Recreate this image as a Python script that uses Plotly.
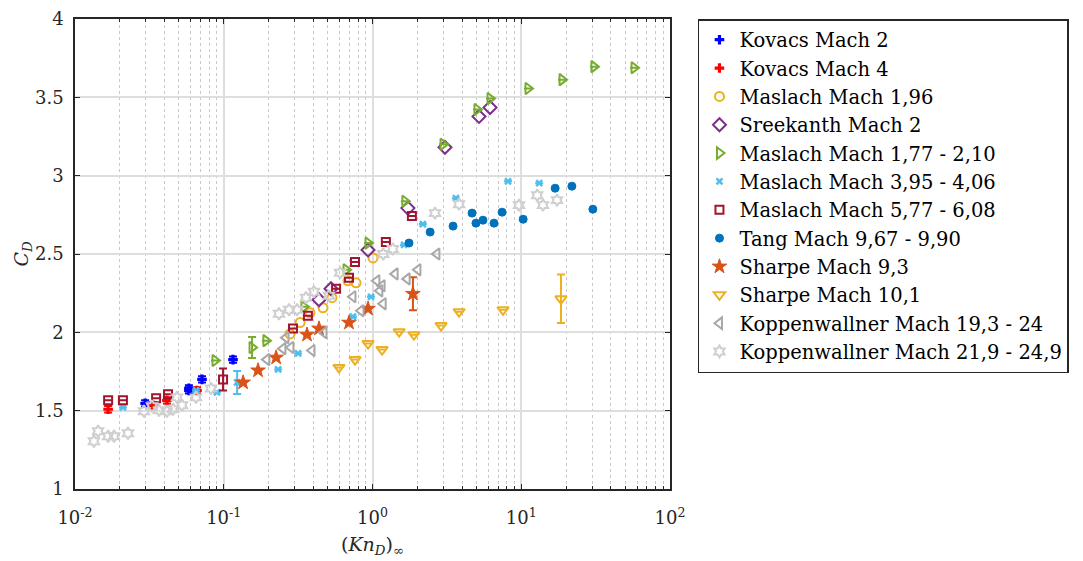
import numpy as np
import plotly.graph_objects as go

# --- data (Kn_D, C_D, optional error) ---
kovacs2_kn = [0.0296, 0.0583, 0.0583, 0.0714, 0.1154]
kovacs2_cd = [1.547, 1.642, 1.629, 1.700, 1.826]
kovacs2_err = [0.02, 0.02, 0.02, 0.02, 0.02]

kovacs4_kn = [0.0167, 0.0334, 0.0415, 0.0661]
kovacs4_cd = [1.509, 1.534, 1.566, 1.629]
kovacs4_err = [0.02, 0.02, 0.02, 0.02]

maslach196_kn = [0.279, 0.326, 0.380, 0.465, 0.534, 0.684, 0.775, 1.008]
maslach196_cd = [1.990, 2.062, 2.125, 2.157, 2.221, 2.329, 2.316, 2.475]

sreekanth_kn = [0.437, 0.526, 0.933, 1.73, 3.07, 5.2, 6.17]
sreekanth_cd = [2.208, 2.278, 2.526, 2.793, 3.181, 3.378, 3.435]

maslach177_kn = [0.0873, 0.155, 0.192, 0.346, 0.664, 0.933, 1.65, 2.98, 5.04, 6.17, 11.1, 18.8, 30.8, 57.3]
maslach177_cd = [1.820, 1.903, 1.947, 2.163, 2.399, 2.570, 2.837, 3.200, 3.422, 3.492, 3.556, 3.613, 3.696, 3.689]
maslach177_err = [np.nan, 0.067, np.nan, np.nan, np.nan, np.nan, np.nan, np.nan, np.nan, np.nan, np.nan, np.nan, np.nan, np.nan]

maslach395_kn = [0.0210, 0.0651, 0.090, 0.123, 0.232, 0.316, 0.739, 0.977, 1.63, 2.18, 3.64, 8.15, 13.2]
maslach395_cd = [1.521, 1.629, 1.617, 1.680, 1.763, 1.865, 2.100, 2.227, 2.558, 2.691, 2.856, 2.964, 2.952]
maslach395_err = [np.nan, np.nan, np.nan, 0.073, np.nan, np.nan, np.nan, np.nan, np.nan, np.nan, np.nan, np.nan, np.nan]

maslach577_kn = [0.0167, 0.0210, 0.0351, 0.0422, 0.0989, 0.292, 0.368, 0.569, 0.695, 0.763, 1.23, 1.84]
maslach577_cd = [1.566, 1.566, 1.579, 1.604, 1.699, 2.024, 2.106, 2.278, 2.348, 2.449, 2.577, 2.742]
maslach577_err = [np.nan, np.nan, np.nan, np.nan, 0.07, np.nan, np.nan, np.nan, np.nan, np.nan, np.nan, np.nan]

tang_kn = [1.76, 2.44, 3.48, 4.67, 4.96, 5.53, 6.56, 7.43, 10.3, 16.9, 21.9, 30.3]
tang_cd = [2.570, 2.640, 2.678, 2.761, 2.697, 2.716, 2.697, 2.767, 2.722, 2.920, 2.933, 2.786]

sharpe93_kn = [0.135, 0.170, 0.225, 0.363, 0.437, 0.695, 0.933, 1.87]
sharpe93_cd = [1.680, 1.757, 1.839, 1.985, 2.024, 2.062, 2.151, 2.246]
sharpe93_err = [np.nan, np.nan, np.nan, np.nan, np.nan, np.nan, np.nan, 0.105]

sharpe101_kn = [0.595, 0.763, 0.933, 1.16, 1.51, 1.90, 2.89, 3.82, 7.54, 18.5]
sharpe101_cd = [1.776, 1.826, 1.928, 1.890, 2.004, 1.985, 2.043, 2.132, 2.144, 2.214]
sharpe101_err = [np.nan] * 9 + [0.155]

kopp193_kn = [0.195, 0.250, 0.283, 0.262, 0.392, 0.472, 0.739, 0.837, 1.07, 1.12, 1.16, 1.18, 1.42, 1.71, 2.02, 2.71]
kopp193_cd = [1.826, 1.896, 1.903, 1.966, 1.884, 1.998, 2.227, 2.138, 2.329, 2.265, 2.297, 2.182, 2.373, 2.341, 2.399, 2.500]

kopp219_kn = [0.0134, 0.0143, 0.0167, 0.0183, 0.0227, 0.0291, 0.0329, 0.0367, 0.0415, 0.0456, 0.0524, 0.0485,
              0.0651, 0.0821, 0.235, 0.275, 0.311, 0.357, 0.404, 0.510, 0.605, 1.18, 1.37, 2.63, 3.82,
              9.66, 12.8, 14.0, 17.4]
kopp219_cd = [1.305, 1.369, 1.337, 1.337, 1.356, 1.496, 1.528, 1.502, 1.496, 1.509, 1.534, 1.585,
              1.585, 1.642, 2.119, 2.144, 2.144, 2.221, 2.259, 2.233, 2.380, 2.500, 2.532, 2.761, 2.818,
              2.812, 2.875, 2.812, 2.844]

x_tickvals = [0.01, 0.1, 1, 10, 100]
x_ticktext = ["10<sup>-2</sup>", "10<sup>-1</sup>", "10<sup>0</sup>", "10<sup>1</sup>", "10<sup>2</sup>"]
x_minor = [m * 10.0 ** e for e in range(-2, 2) for m in range(2, 10)]

FONT = "DejaVu Serif"
INK = "#262626"

fig = go.Figure()


def add_series(name, kn, cd, color, symbol, size=8, lw=2, err=None):
    err_y = None
    if err is not None:
        err_y = dict(type="data", array=err, visible=True, color=color, thickness=2, width=4)
    fig.add_trace(go.Scatter(
        x=kn, y=cd, mode="markers", name=name,
        marker=dict(symbol=symbol, size=size, color=color, line=dict(color=color, width=lw)),
        error_y=err_y,
    ))


add_series("Kovacs Mach 2", kovacs2_kn, kovacs2_cd, "#0000FF", "cross", 8, 0, kovacs2_err)
add_series("Kovacs Mach 4", kovacs4_kn, kovacs4_cd, "#FF0000", "cross", 8, 0, kovacs4_err)
add_series("Maslach Mach 1,96", maslach196_kn, maslach196_cd, "#EDB120", "circle-open", 9)
add_series("Sreekanth Mach 2", sreekanth_kn, sreekanth_cd, "#7E2F8E", "diamond-open", 10)
add_series("Maslach Mach 1,77 - 2,10", maslach177_kn, maslach177_cd, "#77AC30", "triangle-right-open", 10, 2, maslach177_err)
add_series("Maslach Mach 3,95 - 4,06", maslach395_kn, maslach395_cd, "#4DBEEE", "x-thin-open", 6, 2.5, maslach395_err)
add_series("Maslach Mach 5,77 - 6,08", maslach577_kn, maslach577_cd, "#A2142F", "square-open", 8, 2, maslach577_err)
add_series("Tang Mach 9,67 - 9,90", tang_kn, tang_cd, "#0072BD", "circle", 8, 1)
add_series("Sharpe Mach 9,3", sharpe93_kn, sharpe93_cd, "#D95319", "star", 11, 1, sharpe93_err)
add_series("Sharpe Mach 10,1", sharpe101_kn, sharpe101_cd, "#EDB120", "triangle-down-open", 10, 2, sharpe101_err)
add_series("Koppenwallner Mach 19,3 - 24", kopp193_kn, kopp193_cd, "#A8A8A8", "triangle-left-open", 10)
add_series("Koppenwallner Mach 21,9 - 24,9", kopp219_kn, kopp219_cd, "#CFCFCF", "hexagram-open", 9)

axis_common = dict(
    showline=True, linecolor=INK, linewidth=1.5, mirror="ticks",
    ticks="inside", ticklen=5, tickcolor=INK,
    showgrid=True, gridcolor="#DEDEDE", gridwidth=1.5,
    zeroline=False, automargin=False, ticklabeloverflow="allow",
    tickfont=dict(family=FONT, size=18, color=INK),
)

fig.update_xaxes(
    type="log", range=[-2, 2],
    tickvals=x_tickvals, ticktext=x_ticktext,
    ticklabelstandoff=12,
    minor=dict(tickvals=x_minor, ticks="inside", ticklen=3, tickcolor=INK,
               showgrid=True, gridcolor="#C8C8C8", griddash="dot", gridwidth=1),
    title=dict(text="(<i>Kn</i><sub><i>D</i></sub>)<sub>∞</sub>",
               font=dict(family=FONT, size=19, color=INK), standoff=10),
    **axis_common,
)
fig.update_yaxes(
    range=[1, 4], dtick=0.5,
    ticklabelstandoff=6,
    title=dict(text="<i>C</i><sub><i>D</i></sub>",
               font=dict(family=FONT, size=19, color=INK), standoff=0),
    **axis_common,
)

# page body has an 8px margin, so the figure is shrunk by that much
fig.update_layout(
    width=1075, height=553,
    margin=dict(l=67, r=413, t=11, b=72, autoexpand=False),
    plot_bgcolor="white", paper_bgcolor="white",
    legend=dict(x=1.047, y=1, xanchor="left", yanchor="top",
                bordercolor=INK, borderwidth=1.5, bgcolor="white",
                font=dict(family=FONT, size=19.5, color="black")),
)

fig.write_html("out.html")
